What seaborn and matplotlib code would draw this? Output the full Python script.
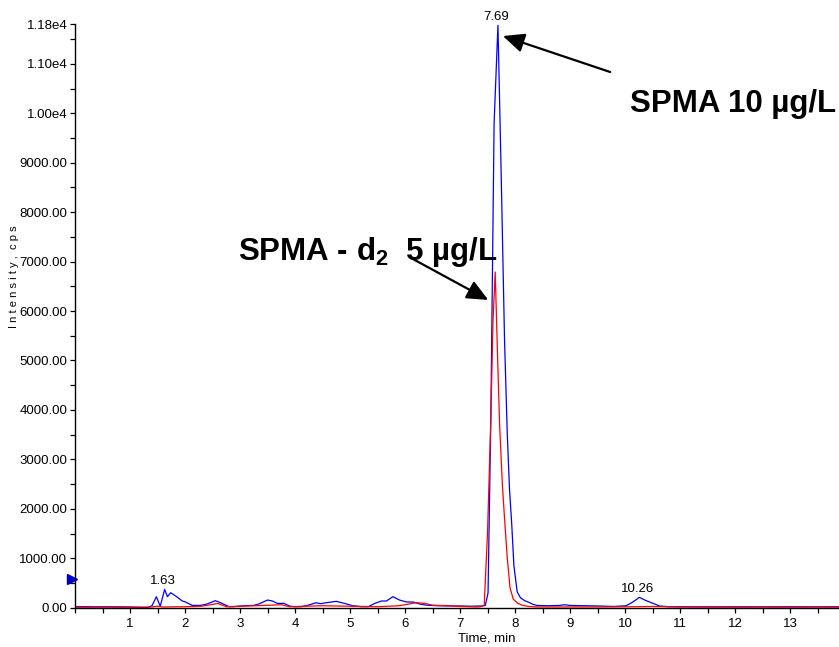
import matplotlib
matplotlib.use("Agg")
import matplotlib.pyplot as plt
import seaborn as sns
import pandas as pd
from matplotlib.ticker import FixedLocator, MultipleLocator

# ---------------- data ----------------
blue_time = [0.00, 0.20, 0.40, 0.60, 0.80, 1.00, 1.10, 1.20, 1.31, 1.40, 1.48, 1.55,
             1.63, 1.68, 1.74, 1.85, 1.95, 2.00, 2.13, 2.28, 2.40, 2.55, 2.65, 2.80,
             2.88, 3.01, 3.25, 3.34, 3.50, 3.59, 3.68, 3.80, 3.90, 3.99, 4.11, 4.23,
             4.38, 4.47, 4.56, 4.75, 4.90, 5.05, 5.20, 5.33, 5.45, 5.57, 5.66, 5.78,
             5.90, 6.03, 6.15, 6.27, 6.40, 6.60, 6.80, 7.00, 7.20, 7.40, 7.46, 7.51,
             7.56, 7.62, 7.69, 7.75, 7.81, 7.86, 7.90, 7.94, 7.98, 8.04, 8.10, 8.18,
             8.25, 8.32, 8.40, 8.60, 8.80, 8.90, 9.00, 9.30, 9.50, 9.80, 10.02, 10.12,
             10.20, 10.26, 10.37, 10.51, 10.63, 10.80, 11.20, 11.60, 12.00, 12.50,
             13.00, 13.50, 14.00, 14.60]
blue_int = [20, 22, 18, 20, 18, 15, 10, 5, 0, 40, 222, 30,
            370, 222, 303, 222, 135, 120, 47, 47, 74, 142, 100, 20,
            20, 34, 47, 74, 155, 135, 87, 87, 34, 20, 20, 47,
            100, 81, 100, 128, 87, 40, 20, 20, 87, 135, 135, 222,
            155, 115, 115, 74, 50, 40, 35, 35, 30, 35, 45, 300,
            3800, 9800, 11780, 8700, 5400, 3500, 2400, 1700, 850, 320, 200, 140,
            110, 70, 45, 40, 45, 60, 45, 40, 35, 25, 40, 100,
            160, 210, 150, 87, 34, 20, 20, 18, 20, 18,
            20, 18, 20, 20]

red_time = [0.00, 0.50, 1.00, 1.40, 1.50, 1.60, 2.00, 2.30, 2.60, 2.75, 3.00, 3.30,
            3.75, 3.90, 4.50, 5.00, 5.50, 5.90, 6.20, 6.35, 6.50, 6.80, 7.00, 7.30,
            7.38, 7.44, 7.50, 7.56, 7.60, 7.64, 7.68, 7.72, 7.77, 7.81, 7.86, 7.91,
            7.97, 8.05, 8.13, 8.25, 8.40, 9.00, 9.50, 10.20, 10.50, 11.00, 12.00,
            13.00, 14.00, 14.60]
red_int = [10, 12, 10, 15, 30, 15, 20, 30, 85, 20, 30, 40,
           60, 20, 40, 30, 20, 40, 100, 90, 50, 40, 25, 15,
           20, 50, 1500, 3800, 5800, 6790, 5200, 3700, 2500, 1800, 1000, 400,
           170, 90, 50, 25, 15, 15, 15, 20, 25, 15, 12,
           12, 12, 12]

peak_labels = ["1.63", "7.69", "10.26"]
peak_times = [1.63, 7.69, 10.26]
peak_heights = [370, 11780, 210]

y_ticks = [0, 1000, 2000, 3000, 4000, 5000, 6000, 7000, 8000, 9000, 10000, 11000, 11800]
y_tick_labels = ["0.00", "1000.00", "2000.00", "3000.00", "4000.00", "5000.00",
                 "6000.00", "7000.00", "8000.00", "9000.00", "1.00e4", "1.10e4", "1.18e4"]
x_ticks = list(range(1, 15))

df = pd.concat([
    pd.DataFrame({"Time": blue_time, "Intensity": blue_int, "trace": "SPMA"}),
    pd.DataFrame({"Time": red_time, "Intensity": red_int, "trace": "SPMA-d2"}),
], ignore_index=True)

# ---------------- style ----------------
sns.set_theme(style="ticks")
plt.rcParams["font.family"] = ["Liberation Sans", "DejaVu Sans"]
plt.rcParams["mathtext.fontset"] = "custom"
plt.rcParams["mathtext.rm"] = "Liberation Sans"
plt.rcParams["mathtext.bf"] = "Liberation Sans:bold"

fig = plt.figure(figsize=(8.39, 6.47), dpi=100)
ax = fig.add_axes([75 / 839, 39.3 / 647, 803 / 839, 583.4 / 647])

sns.lineplot(data=df, x="Time", y="Intensity", hue="trace",
             palette={"SPMA": "#0000ff", "SPMA-d2": "#ff0000"},
             estimator=None, sort=False, linewidth=0.9, legend=False, ax=ax)

ax.set_xlim(0, 14.6)
ax.set_ylim(0, 11800)
sns.despine(ax=ax)
for s in ("left", "bottom"):
    ax.spines[s].set_linewidth(1.0)
    ax.spines[s].set_color("black")

ax.xaxis.set_major_locator(FixedLocator(x_ticks))
ax.xaxis.set_minor_locator(MultipleLocator(0.5))
ax.yaxis.set_major_locator(FixedLocator(y_ticks))
ax.set_yticklabels(y_tick_labels)
ax.yaxis.set_minor_locator(MultipleLocator(500))
ax.tick_params(axis="both", which="both", direction="out", length=3.5, width=0.9,
               color="black", labelsize=9.5, labelcolor="black")
ax.tick_params(axis="y", pad=2)
ax.tick_params(axis="x", pad=4)

ax.set_xlabel("Time, min", fontsize=9.5, color="black")
ax.xaxis.set_label_coords(0.513, -0.042)
ax.set_ylabel("")
fig.text(14 / 839, 1 - 277 / 647, "I n t e n s i t y ,  c p s", rotation=90,
         ha="center", va="center", fontsize=8, color="black")

# peak apex labels
for lab, t, h in zip(peak_labels, peak_times, peak_heights):
    ax.annotate(lab, xy=(t, h), xytext=(-1, 1.5), textcoords="offset points",
                ha="center", va="bottom", fontsize=9.5, color="black",
                annotation_clip=False)

# blue marker at the left axis
ax.plot([-0.06], [580], marker=">", color="#0000cc", markersize=7,
        clip_on=False, linestyle="none")

# big annotations with arrows
arrow_props = dict(arrowstyle="-|>,head_length=1.0,head_width=0.45",
                   mutation_scale=13, color="black", lw=1.6,
                   shrinkA=0, shrinkB=0)
ax.annotate("", xy=(7.78, 11563), xytext=(9.73, 10835), arrowprops=arrow_props)
ax.annotate("", xy=(7.515, 6224), xytext=(6.12, 7067), arrowprops=arrow_props)

ax.text(10.09, 10032, "SPMA 10 µg/L", fontsize=22.5, fontweight="bold",
        ha="left", va="baseline", color="black")
ax.text(2.96, 7033, r"SPMA - d$_\mathbf{2}$  5 µg/L", fontsize=22.5,
        fontweight="bold", ha="left", va="baseline", color="black")

fig.savefig("out.png", dpi=100, facecolor="white")
